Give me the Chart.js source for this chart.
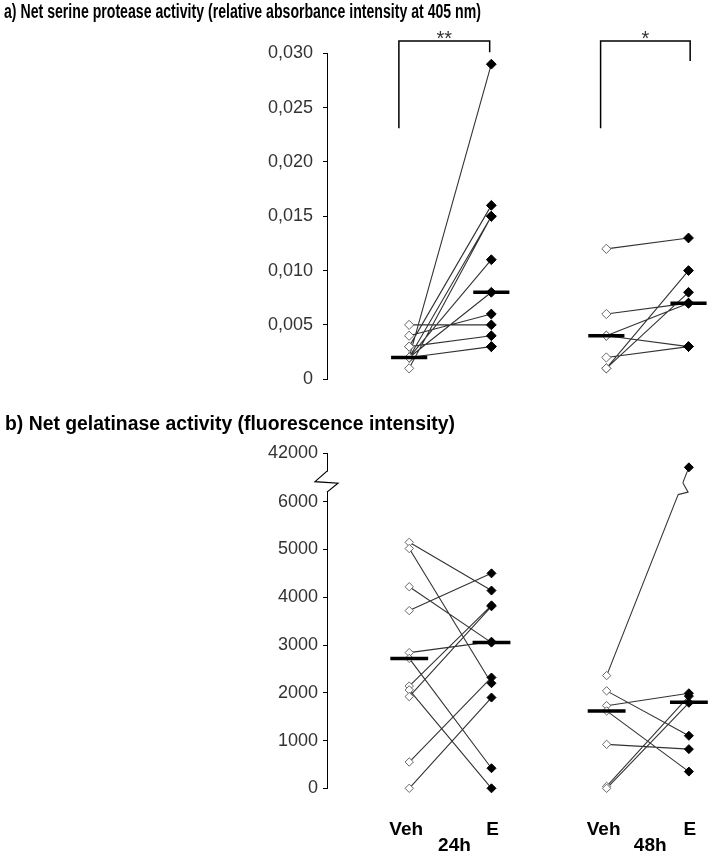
<!DOCTYPE html>
<html><head><meta charset="utf-8">
<script src="https://cdn.jsdelivr.net/npm/chart.js@4.4.1/dist/chart.umd.min.js"></script>
<style>
html,body{margin:0;padding:0;background:#fff;}
#wrap{position:relative;width:717px;height:855px;background:#fff;}
canvas{position:absolute;left:0;}
</style></head><body>
<div id="wrap">
<canvas id="ca" width="717" height="400" style="top:0px"></canvas>
<canvas id="cb" width="717" height="455" style="top:400px"></canvas>
</div>
<script>
// ---------------- data ----------------
const titleA = 'a) Net serine protease activity (relative absorbance intensity at 405 nm)';
const titleB = 'b) Net gelatinase activity (fluorescence intensity)';
const conditions = ['Veh', 'E'];
const timepoints = ['24h', '48h'];
const significance = ['**', '*'];

// a) serine protease activity, paired samples (Veh[i] -> E[i])
const serineVeh24 = [0.002, 0.003, 0.002, 0.001, 0.002, 0.002, 0.004, 0.005, 0.003, 0.002, 0.002];
const serineE24   = [0.029, 0.016, 0.015, 0.015, 0.011, 0.008, 0.006, 0.005, 0.004, 0.003, 0.003];
const serineVeh48 = [0.012, 0.006, 0.004, 0.004, 0.002, 0.001, 0.001];
const serineE48   = [0.013, 0.007, 0.007, 0.003, 0.003, 0.010, 0.008];
const serineMedians = [0.002, 0.008, 0.004, 0.007]; // Veh24, E24, Veh48, E48
const serineTicks = [0, 0.005, 0.010, 0.015, 0.020, 0.025, 0.030];

// b) gelatinase activity, paired samples
const gelVeh24 = [5150, 5020, 4220, 3720, 2840, 2720, 2140, 2060, 1920, 550, 0];
const gelE24   = [4140, 2200, 3050, 4500, 3070, 420, 3830, 0, 3810, 2320, 1900];
const gelVeh48 = [2360, 2040, 1730, 1620, 920, 40, 0];
const gelE48   = [40000, 1100, 1990, 350, 820, 1930, 1790];
const gelMedians = [2720, 3050, 1620, 1800];
const gelTicks = [0, 1000, 2000, 3000, 4000, 5000, 6000, 42000];

// ---------------- layout helpers ----------------
const XPOS = [1, 2, 3.4, 4.4];           // Veh24, E24, Veh48, E48
const X_MAX = 4.675;
const AXIS_W = 327;
// broken axis: values above 6000 jump to an upper segment
function gelAxis(v) { return v <= 6000 ? v : 6420 + (v - 38000) * 0.15; }
const GEL_AXIS_MAX = gelAxis(42000);
const GEL_BREAK = 6420;
function ident(v) { return v; }

function pairLines(veh, e, xv, xe, map) {
  const pts = [];
  veh.forEach((v, i) => {
    pts.push({x: xv, y: map(v)}, {x: xe, y: map(e[i])}, {x: (xv + xe) / 2, y: null});
  });
  return pts;
}
function markers(arr, x, map) { return arr.map(v => ({x: x, y: map(v)})); }
function medianBars(meds, map, hw) {
  const pts = [];
  meds.forEach((m, i) => {
    pts.push({x: XPOS[i] - hw, y: map(m)}, {x: XPOS[i] + hw, y: map(m)}, {x: XPOS[i], y: null});
  });
  return pts;
}

function buildDatasets(v24, e24, v48, e48, meds, map, r, hw) {
  const lineStyle = {type: 'line', showLine: true, borderColor: '#333', borderWidth: 1.1, pointRadius: 0,
    spanGaps: false, clip: false, order: 5};
  const vehStyle = {type: 'line', showLine: false, pointStyle: 'rectRot', pointRadius: r, pointBackgroundColor: '#fff',
    pointBorderColor: '#666', pointBorderWidth: 1, clip: false, order: 2};
  const eStyle = {type: 'line', showLine: false, pointStyle: 'rectRot', pointRadius: r + 0.3, pointBackgroundColor: '#000',
    pointBorderColor: '#000', pointBorderWidth: 1, clip: false, order: 2};
  return [
    Object.assign({label: 'pairs24', data: pairLines(v24, e24, XPOS[0], XPOS[1], map)}, lineStyle),
    Object.assign({label: 'pairs48', data: pairLines(v48, e48, XPOS[2], XPOS[3], map)}, lineStyle),
    Object.assign({label: conditions[0] + ' ' + timepoints[0], data: markers(v24, XPOS[0], map)}, vehStyle),
    Object.assign({label: conditions[1] + ' ' + timepoints[0], data: markers(e24, XPOS[1], map)}, eStyle),
    Object.assign({label: conditions[0] + ' ' + timepoints[1], data: markers(v48, XPOS[2], map)}, vehStyle),
    Object.assign({label: conditions[1] + ' ' + timepoints[1], data: markers(e48, XPOS[3], map)}, eStyle),
    {type: 'line', label: 'medians', data: medianBars(meds, map, hw), showLine: true, borderColor: '#000',
      borderWidth: 3.5, borderCapStyle: 'butt', pointRadius: 0, spanGaps: false, clip: false, order: 0}
  ];
}

function fitText(ctx, text, x, baseline, font, targetW) {
  ctx.save();
  ctx.font = font;
  const w = ctx.measureText(text).width;
  const sx = targetW / w;
  ctx.translate(x, baseline);
  ctx.scale(sx, 1);
  ctx.textAlign = 'left';
  ctx.textBaseline = 'alphabetic';
  ctx.fillStyle = '#000';
  ctx.fillText(text, 0, 0);
  ctx.restore();
}

function baseOptions(padTop, padBottom, tickPad) {
  return {
    responsive: false, animation: false, devicePixelRatio: 1,
    layout: {padding: {left: 0, right: 2, top: padTop, bottom: padBottom}},
    plugins: {legend: {display: false}, tooltip: {enabled: false}, title: {display: false}},
    scales: {
      x: {type: 'linear', display: false, min: 0, max: X_MAX},
      y: {
        type: 'linear', min: 0,
        afterFit: s => { s.width = AXIS_W; },
        border: {display: true, color: '#000', width: 1},
        grid: {display: true, drawOnChartArea: false, drawTicks: true, tickLength: 4, color: '#000', lineWidth: 1},
        ticks: {padding: tickPad, color: '#333', font: {family: "'Liberation Sans', Arial, sans-serif", size: 18}}
      }
    }
  };
}

// ---------------- chart a ----------------
const optA = baseOptions(53.3, 14.3, 10);
optA.scales.y.max = 0.030;
optA.scales.y.afterBuildTicks = s => { s.ticks = serineTicks.map(v => ({value: v})); };
optA.scales.y.ticks.callback = v => v === 0 ? '0' : v.toFixed(3).replace('.', ',');

const brackets = [
  {x1: 0.875, x2: 1.98, yLeft: 0.0231, yRight: 0.0301},
  {x1: 3.33, x2: 4.42, yLeft: 0.0231, yRight: 0.0293}
];
const decorA = {
  id: 'decorA',
  afterDraw(chart) {
    const ctx = chart.ctx, xs = chart.scales.x, ys = chart.scales.y;
    fitText(ctx, titleA, 4, 17.5, "bold 19.5px 'Liberation Sans', Arial, sans-serif", 477);
    const yTop = ys.getPixelForValue(0.03113);
    ctx.save();
    ctx.strokeStyle = '#000'; ctx.lineWidth = 1.5;
    brackets.forEach((b, i) => {
      const x1 = xs.getPixelForValue(b.x1), x2 = xs.getPixelForValue(b.x2);
      ctx.beginPath();
      ctx.moveTo(x1, ys.getPixelForValue(b.yLeft));
      ctx.lineTo(x1, yTop);
      ctx.lineTo(x2, yTop);
      ctx.lineTo(x2, ys.getPixelForValue(b.yRight));
      ctx.stroke();
      ctx.font = "20px 'Liberation Sans', Arial, sans-serif";
      ctx.fillStyle = '#333';
      ctx.textAlign = 'center'; ctx.textBaseline = 'alphabetic';
      ctx.fillText(significance[i], (x1 + x2) / 2, yTop + 4);
    });
    ctx.restore();
  }
};

new Chart(document.getElementById('ca'), {
  type: 'scatter',
  data: {datasets: buildDatasets(serineVeh24, serineE24, serineVeh48, serineE48, serineMedians, ident, 4.6, 0.22)},
  options: optA,
  plugins: [decorA]
});

// ---------------- chart b ----------------
const optB = baseOptions(53, 66.7, 5);
optB.scales.y.max = GEL_AXIS_MAX;
optB.scales.y.afterBuildTicks = s => { s.ticks = gelTicks.map(v => ({value: gelAxis(v)})); };
optB.scales.y.ticks.callback = (v, i) => String(gelTicks[i]);

const decorB = {
  id: 'decorB',
  afterDraw(chart) {
    const ctx = chart.ctx, xs = chart.scales.x, ys = chart.scales.y;
    fitText(ctx, titleB, 5, 30, "bold 20px 'Liberation Sans', Arial, sans-serif", 450);
    const ax = chart.chartArea.left;
    const yb = ys.getPixelForValue(GEL_BREAK);
    ctx.save();
    // axis break zigzag
    ctx.fillStyle = '#fff';
    ctx.fillRect(ax - 2, yb - 10, 4, 20);
    ctx.strokeStyle = '#000'; ctx.lineWidth = 1.2;
    ctx.beginPath();
    ctx.moveTo(ax, yb - 10.5);
    ctx.lineTo(ax - 12, yb);
    ctx.lineTo(ax + 11, yb + 1.5);
    ctx.lineTo(ax, yb + 10.5);
    ctx.stroke();
    // break on the paired line that crosses it
    gelE48.forEach((ev, i) => {
      if (ev <= 6000) return;
      const x1 = xs.getPixelForValue(XPOS[2]), y1 = ys.getPixelForValue(gelAxis(gelVeh48[i]));
      const x2 = xs.getPixelForValue(XPOS[3]), y2 = ys.getPixelForValue(gelAxis(ev));
      const at = yy => ({x: x1 + (x2 - x1) * (y1 - yy) / (y1 - y2), y: yy});
      const pLow = at(yb + 13), pHigh = at(yb + 1);
      ctx.strokeStyle = '#fff'; ctx.lineWidth = 3;
      ctx.beginPath(); ctx.moveTo(pLow.x, pLow.y); ctx.lineTo(pHigh.x, pHigh.y); ctx.stroke();
      ctx.strokeStyle = '#333'; ctx.lineWidth = 1.1;
      ctx.beginPath();
      ctx.moveTo(pLow.x, pLow.y);
      ctx.lineTo(pLow.x + 10, pLow.y - 2.5);
      ctx.lineTo(pHigh.x, pHigh.y);
      ctx.stroke();
    });
    // category labels
    ctx.fillStyle = '#000';
    ctx.font = "bold 19px 'Liberation Sans', Arial, sans-serif";
    ctx.textBaseline = 'alphabetic'; ctx.textAlign = 'center';
    const yLab = 835 - 400, yTime = 851 - 400;
    ctx.fillText(conditions[0], xs.getPixelForValue(XPOS[0]) - 3, yLab);
    ctx.fillText(conditions[1], xs.getPixelForValue(XPOS[1]) + 1, yLab);
    ctx.fillText(timepoints[0], xs.getPixelForValue(1.55), yTime);
    ctx.fillText(conditions[0], xs.getPixelForValue(XPOS[2]) - 3, yLab);
    ctx.fillText(conditions[1], xs.getPixelForValue(XPOS[3]) + 1, yLab);
    ctx.fillText(timepoints[1], xs.getPixelForValue(3.93), yTime);
    ctx.restore();
  }
};

new Chart(document.getElementById('cb'), {
  type: 'scatter',
  data: {datasets: buildDatasets(gelVeh24, gelE24, gelVeh48, gelE48, gelMedians, gelAxis, 4.2, 0.23)},
  options: optB,
  plugins: [decorB]
});
</script>
</body></html>
